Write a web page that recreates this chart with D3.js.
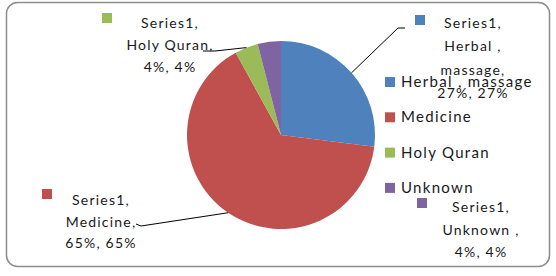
<!DOCTYPE html>
<html><head><meta charset="utf-8">
<script src="https://cdn.jsdelivr.net/npm/d3@7"></script>
<style>
body{margin:0;background:#fff;}
svg text{font-family:Lato,"Open Sans",sans-serif;fill:#1a1a1a;}
</style></head>
<body>
<svg id="c" width="556" height="276"></svg>
<script>
const seriesName = "Series1";
const categories = ["Herbal , massage", "Medicine", "Holy Quran", "Unknown"];
const values = [27, 65, 4, 4];
const colors = ["#4F81BD", "#C0504D", "#9BBB59", "#8064A2"];
const labelNames = [["Herbal ,", "massage,"], ["Medicine,"], ["Holy Quran,"], ["Unknown ,"]];

const svg = d3.select("#c");
const W = 556, H = 276;

svg.append("rect").attr("x", 6.5).attr("y", 2.5).attr("width", 543).attr("height", 264)
  .attr("rx", 11).attr("fill", "#fff").attr("stroke", "#8c8c8c").attr("stroke-width", 1.5);

const cx = 281, cy = 135, R = 94;
const total = d3.sum(values);
const pct = d3.format(".0%");
const data = categories.map((c, i) => ({cat: c, value: values[i], color: colors[i], names: labelNames[i]}));
const pie = d3.pie().sort(null).value(d => d.value).startAngle(0).endAngle(2 * Math.PI);
const arcs = pie(data);
const arc = d3.arc().innerRadius(0).outerRadius(R);
const edgeArc = d3.arc().innerRadius(R).outerRadius(R);

const g = svg.append("g").attr("transform", `translate(${cx},${cy})`);
g.selectAll("path").data(arcs).enter().append("path")
  .attr("d", arc).attr("fill", d => d.data.color);

// label layout (center x, first baseline, line step, marker x, marker y, leader points after edge)
const layout = [
  {x: 473, y: 28, step: 23.3, mx: 415, my: 15, leader: [[398, 28], [405, 28]]},
  {x: 101, y: 205, step: 21.5, mx: 42, my: 189, leader: [[141, 226], [136, 224]]},
  {x: 170, y: 28, step: 22, mx: 102, my: 13, leader: [[215, 51], [203, 51]]},
  {x: 481, y: 212, step: 22.5, mx: 417, my: 198, leader: null}
];

const lineGen = d3.line();
arcs.forEach((a, i) => {
  const L = layout[i];
  if (L.leader) {
    const e = edgeArc.centroid(a);
    const pts = [[e[0] + cx, e[1] + cy]].concat(L.leader);
    svg.append("path").attr("d", lineGen(pts)).attr("fill", "none")
      .attr("stroke", "#000").attr("stroke-width", 1);
  }
  const lines = [seriesName + ","].concat(a.data.names).concat([pct(a.data.value / total) + ", " + pct(a.data.value / total)]);
  const t = svg.append("text").attr("text-anchor", "middle").attr("font-size", 14)
    .style("letter-spacing", "1.2px");
  lines.forEach((ln, j) => {
    t.append("tspan").attr("x", L.x).attr("y", L.y + j * L.step).text(ln);
  });
  svg.append("rect").attr("x", L.mx).attr("y", L.my).attr("width", 10).attr("height", 10)
    .attr("fill", a.data.color);
});

// legend
const legend = svg.append("g");
data.forEach((d, i) => {
  const by = 87 + i * 35.3;
  legend.append("rect").attr("x", 385).attr("y", by - 10).attr("width", 10).attr("height", 10).attr("fill", d.color);
  legend.append("text").attr("x", 401).attr("y", by).attr("font-size", 15)
    .style("letter-spacing", "1.3px").text(d.cat);
});
</script>
</body></html>
